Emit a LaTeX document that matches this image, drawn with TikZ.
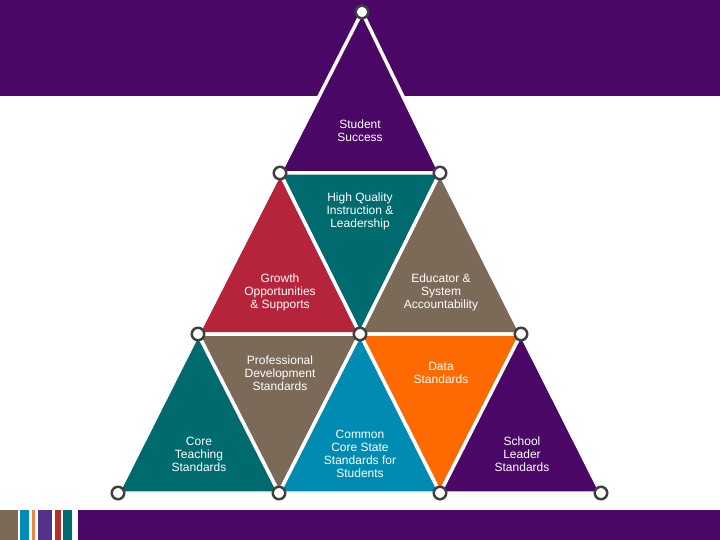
\documentclass[tikz,border=0pt]{standalone}
\usepackage{fontspec}
\setsansfont{Liberation Sans}
\usepackage{xcolor}
\usepackage{tikz}

\definecolor{deeppurple}{HTML}{4A0766}
\definecolor{tealgreen}{HTML}{006B6E}
\definecolor{brickred}{HTML}{B5243A}
\definecolor{taupe}{HTML}{7B6A58}
\definecolor{brightorange}{HTML}{FF6A00}
\definecolor{oceanblue}{HTML}{008CB2}
\definecolor{dotgray}{HTML}{404040}
\definecolor{stripepurple}{HTML}{55318B}
\definecolor{stripered}{HTML}{B5302A}
\definecolor{stripeorange}{HTML}{E8844A}

\begin{document}
\begin{tikzpicture}[
  x=1pt, y=-1pt,
  tri/.style={draw=white, line width=3.5pt, line join=miter},
  lbl/.style={
    text=white,
    align=center,
    font=\sffamily\fontsize{12}{13}\selectfont
  },
  vtx/.style={
    circle,
    draw=dotgray,
    fill=white,
    line width=2.5pt,
    minimum size=12.5pt,
    inner sep=0pt
  }
]
  \useasboundingbox (0,0) rectangle (720,540);

  % bands
  \fill[deeppurple] (0,0) rectangle (720,96);
  \fill[deeppurple] (78,510) rectangle (720,540);
  \fill[taupe] (0,510) rectangle (18,540);
  \fill[oceanblue] (20,510) rectangle (29,540);
  \fill[stripeorange] (32,510) rectangle (35,540);
  \fill[stripepurple] (38,510) rectangle (52,540);
  \fill[stripered] (55,510) rectangle (61,540);
  \fill[tealgreen] (63,510) rectangle (72,540);

  % grid points
  \coordinate (apex) at (362,12);
  \coordinate (l1) at (280,173);
  \coordinate (r1) at (440,173);
  \coordinate (l2) at (198,334);
  \coordinate (m2) at (360,334);
  \coordinate (r2) at (521,334);
  \coordinate (b0) at (118,493);
  \coordinate (b1) at (279,493);
  \coordinate (b2) at (440,493);
  \coordinate (b3) at (601,493);

  % triangles
  \filldraw[tri, fill=deeppurple] (apex) -- (l1) -- (r1) -- cycle;
  \filldraw[tri, fill=tealgreen] (l1) -- (r1) -- (m2) -- cycle;
  \filldraw[tri, fill=brickred] (l1) -- (l2) -- (m2) -- cycle;
  \filldraw[tri, fill=taupe] (r1) -- (m2) -- (r2) -- cycle;
  \filldraw[tri, fill=taupe] (l2) -- (m2) -- (b1) -- cycle;
  \filldraw[tri, fill=brightorange] (m2) -- (r2) -- (b2) -- cycle;
  \filldraw[tri, fill=tealgreen] (l2) -- (b0) -- (b1) -- cycle;
  \filldraw[tri, fill=oceanblue] (m2) -- (b1) -- (b2) -- cycle;
  \filldraw[tri, fill=deeppurple] (r2) -- (b2) -- (b3) -- cycle;

  % labels
  \node[lbl] (success) at (360,131) {Student\\Success};
  \node[lbl] (instruction) at (360,211) {High Quality\\Instruction \&\\Leadership};
  \node[lbl] (growth) at (280,292) {Growth\\Opportunities\\\& Supports};
  \node[lbl] (educator) at (441,292) {Educator \&\\System\\Accountability};
  \node[lbl] (profdev) at (280,373) {Professional\\Development\\Standards};
  \node[lbl] (data) at (441,373) {Data\\Standards};
  \node[lbl] (teaching) at (199,454) {Core\\Teaching\\Standards};
  \node[lbl] (commoncore) at (360,454) {Common\\Core State\\Standards for\\Students};
  \node[lbl] (leader) at (522,454) {School\\Leader\\Standards};

  % dots
  \foreach \p in {apex,l1,r1,l2,m2,r2,b0,b1,b2,b3}
    \node[vtx] (dot-\p) at (\p) {};
\end{tikzpicture}
\end{document}
